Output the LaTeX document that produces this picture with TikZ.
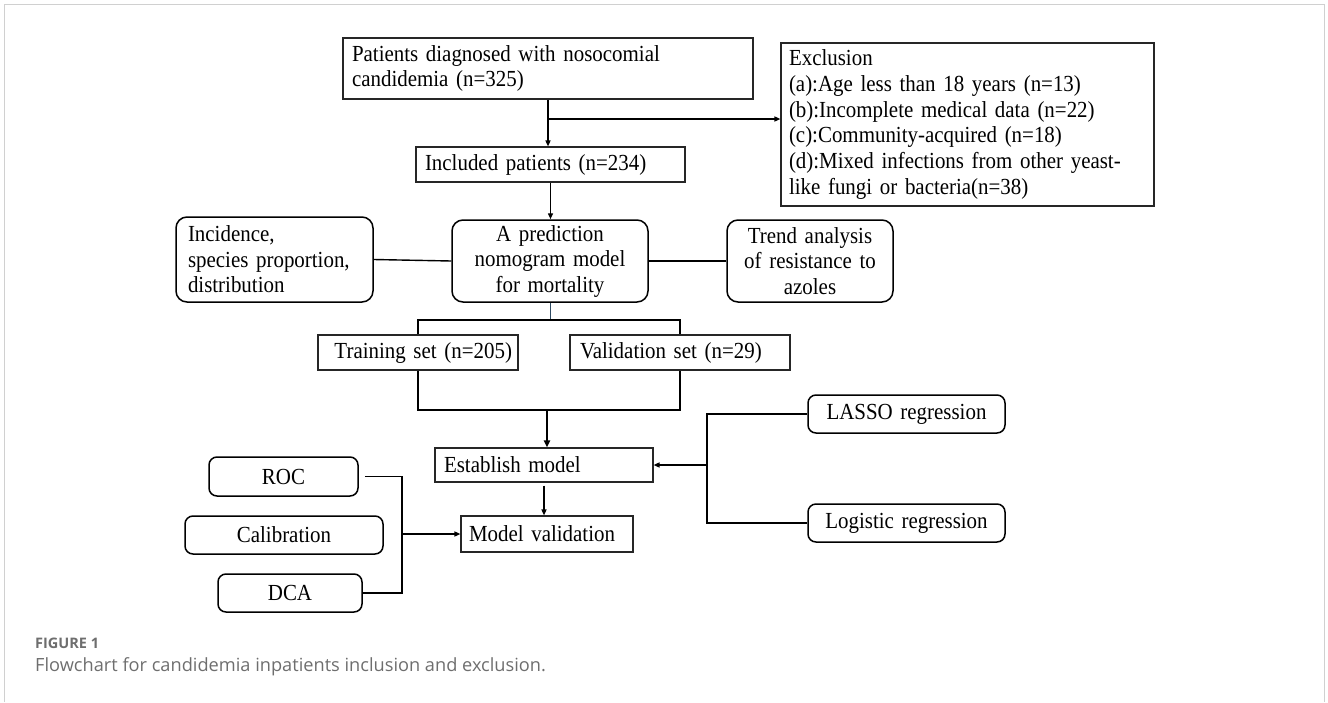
\documentclass[tikz,border=0pt]{standalone}
\usepackage{fontspec}
\setmainfont[FakeStretch=0.91]{Liberation Serif}
\newfontfamily\capfont{Open Sans}
\usetikzlibrary{arrows.meta}
\definecolor{framegray}{HTML}{D0D0D0}
\definecolor{capgray}{HTML}{6E6E6E}
\definecolor{stemblue}{HTML}{2E4A62}
\begin{document}
\begin{tikzpicture}[x=1pt,y=-1pt,
  txt/.style={font=\fontsize{23}{25.5}\selectfont},
  sqbox/.style={draw=black!85, line width=1.1pt, inner ysep=0pt, txt},
  rbox/.style={draw=black, line width=1.5pt, rounded corners=11pt, inner ysep=0pt, inner xsep=0pt, align=center, txt},
  conn/.style={draw=black, line width=1.4pt},
  arr/.style={conn, -{Triangle[length=6pt,width=5pt]}},
  thickarr/.style={draw=black, line width=2.2pt, -{Triangle[length=7pt,width=6pt]}}
]
\useasboundingbox (0,0) rectangle (1328,702);
\draw[framegray, line width=1pt] (4,702) -- (4,4) -- (1324.5,4) -- (1324.5,702);

% boxes
\node[sqbox, text width=392pt, inner xsep=9pt, minimum height=61pt, align=left] (pat) at (548,68.5)
  {Patients diagnosed with nosocomial\\candidemia (n=325)};
\node[sqbox, text width=357pt, inner xsep=8pt, minimum height=163pt, align=left,
  font=\fontsize{23}{25.7}\selectfont] (exc) at (967.5,124.5)
  {Exclusion\\(a):Age less than 18 years (n=13)\\(b):Incomplete medical data (n=22)\\(c):Community-acquired (n=18)\\(d):Mixed infections from other yeast-\\like fungi or bacteria(n=38)};
\node[sqbox, text width=251pt, inner xsep=9pt, minimum height=35pt, align=left] (incl) at (550.5,164.5)
  {Included patients (n=234)};
\node[rbox, text width=173pt, inner xsep=12pt, minimum height=85pt, align=left] (inc) at (274.5,259.5)
  {Incidence,\\species proportion,\\distribution};
\node[rbox, text width=196pt, minimum height=82pt] (pred) at (550,261)
  {A prediction\\nomogram model\\for mortality};
\node[rbox, text width=166pt, minimum height=82pt] (trend) at (810,261)
  {Trend analysis\\of resistance to\\azoles};
\node[sqbox, text width=188pt, inner xsep=6pt, minimum height=35pt, align=right] (train) at (418,352.5)
  {Training set (n=205)};
\node[sqbox, text width=200pt, inner xsep=10pt, minimum height=35pt, align=left] (val) at (680,352.5)
  {Validation set (n=29)};
\node[sqbox, text width=200pt, inner xsep=9pt, minimum height=34pt, align=left] (est) at (544,465)
  {Establish model};
\node[sqbox, text width=156pt, inner xsep=8pt, minimum height=36pt, align=left] (mv) at (547,534)
  {Model validation};
\node[rbox, rounded corners=8pt, text width=149pt, minimum height=39pt] (roc) at (283.5,476.5) {ROC};
\node[rbox, rounded corners=8pt, text width=198pt, minimum height=38pt] (cal) at (284,535) {Calibration};
\node[rbox, rounded corners=8pt, text width=144pt, minimum height=38pt] (dca) at (290,593) {DCA};
\node[rbox, rounded corners=8pt, text width=197pt, minimum height=38pt] (lasso) at (906.5,414) {LASSO regression};
\node[rbox, rounded corners=8pt, text width=197pt, minimum height=38pt] (logit) at (906.5,523) {Logistic regression};

% connectors
\draw[arr] (pat.south) -- (pat.south |- incl.north);
\coordinate (br) at (548,119);
\draw[arr] (br) -- (br -| exc.west);
\draw[arr] (incl.south) -- (incl.south |- pred.north);
\draw[conn] (inc.east) -- (pred.west);
\draw[conn] (pred.east) -- (trend.west);
\coordinate (split) at (550,320);
\draw[stemblue, line width=1pt] (pred.south) -- (split);
\draw[conn] (train.north) |- (split) -| (val.north);
\coordinate (join) at (547,410);
\draw[conn] (train.south) |- (join) -| (val.south);
\draw[thickarr] (join) -- (join |- est.north);
\draw[arr] ([yshift=-3pt]est.south) -- (est.south |- mv.north);
\coordinate (vj) at (402,534);
\draw[conn] ([xshift=6pt]roc.east) -| (vj) |- (dca.east);
\draw[arr] (vj) -- (mv.west);
\coordinate (rj) at (707,465);
\draw[conn] (lasso.west) -| (rj) |- (logit.west);
\draw[arr] (rj) -- (est.east);

% caption
\node[anchor=base west, inner sep=0pt, text=capgray, font=\capfont\bfseries\fontsize{14.5}{17}\selectfont] (figlab) at (35,648) {FIGURE 1};
\node[anchor=base west, inner sep=0pt, text=capgray, font=\capfont\fontsize{18.2}{21}\selectfont] (figcap) at (35,671)
  {Flowchart for candidemia inpatients inclusion and exclusion.};
\end{tikzpicture}
\end{document}
